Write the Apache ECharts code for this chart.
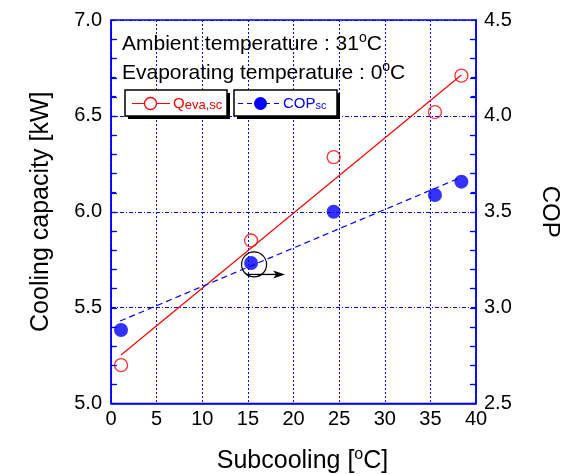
<!DOCTYPE html>
<html><head><meta charset="utf-8">
<script src="https://cdn.jsdelivr.net/npm/echarts@6/dist/echarts.min.js"></script>
<style>html,body{margin:0;padding:0;background:#fff}#c{width:569px;height:474px}</style>
</head><body><div id="c"></div>
<script>
// Data
var subcooling = [1.1, 15.35, 24.4, 35.5, 38.4];
var qeva = [5.20, 5.85, 6.285, 6.52, 6.71];
var cop = [2.883, 3.233, 3.50, 3.587, 3.657];
var qevaFitX = [1.1, 38.4];
var qevaFitY = [5.253, 6.713];
var copFitX = [1.0, 38.4];
var copFitY = [2.930, 3.680];
var xTicks = [0, 5, 10, 15, 20, 25, 30, 35, 40];
var leftTicks = [5.0, 5.5, 6.0, 6.5, 7.0];
var rightTicks = [2.5, 3.0, 3.5, 4.0, 4.5];
var minorPerMajor = 5;
var highlightIndex = 1;

var FONT = 'Liberation Sans, Arial, sans-serif';
var BLUE = '#0000ff';
var RED = '#ff0000';

function pairs(xs, ys){ return xs.map(function(x,i){return [x, ys[i]];}); }

var chart = echarts.init(document.getElementById('c'));
var axisCommon = {
  axisLine: {show: true, lineStyle: {color: BLUE, width: 1.5}},
  axisLabel: {color: '#000', fontFamily: FONT, fontSize: 20},
  nameTextStyle: {color: '#000', fontFamily: FONT, fontSize: 25}
};
var supRich = {
  n: {fontSize: 25, fontFamily: FONT, color: '#000', verticalAlign: 'bottom', lineHeight: 28},
  sup: {fontSize: 16, fontFamily: FONT, color: '#000', verticalAlign: 'bottom', lineHeight: 16, padding: [0,0,11,0]}
};
var tickStyle = {color: BLUE, width: 1.2};
chart.setOption({
  animation: false,
  backgroundColor: '#fff',
  grid: {left: 111, right: 93, top: 20, bottom: 70.5, show: true, borderColor: BLUE, borderWidth: 1.5,
         containLabel: false, outerBoundsMode: 'none'},
  xAxis: Object.assign({}, axisCommon, {
    type: 'value', min: xTicks[0], max: xTicks[xTicks.length-1], interval: 5,
    axisTick: {show: false},
    axisLabel: Object.assign({}, axisCommon.axisLabel, {margin: 6}),
    splitLine: {show: true, lineStyle: {color: BLUE, type: [2,2], width: 1}},
    name: '{n|Subcooling [}{sup|o}{n|C]}', nameLocation: 'middle', nameGap: 42,
    nameTextStyle: {rich: supRich, padding: [0, 0, 0, 18]}
  }),
  yAxis: [
    Object.assign({}, axisCommon, {
      type: 'value', min: leftTicks[0], max: leftTicks[leftTicks.length-1], interval: 0.5,
      axisTick: {show: true, inside: true, length: 5, lineStyle: tickStyle},
      minorTick: {show: true, splitNumber: minorPerMajor, length: 5, lineStyle: tickStyle},
      axisLabel: Object.assign({}, axisCommon.axisLabel, {margin: 9, formatter: function(v){return v.toFixed(1);}}),
      splitLine: {show: true, lineStyle: {color: BLUE, type: [4,2,1,2], width: 1}},
      name: 'Cooling capacity [kW]', nameLocation: 'middle', nameGap: 57
    }),
    Object.assign({}, axisCommon, {
      type: 'value', position: 'right', min: rightTicks[0], max: rightTicks[rightTicks.length-1], interval: 0.5,
      axisTick: {show: true, inside: true, length: 5, lineStyle: tickStyle},
      minorTick: {show: true, splitNumber: minorPerMajor, length: 5, lineStyle: tickStyle},
      axisLabel: Object.assign({}, axisCommon.axisLabel, {margin: 8, formatter: function(v){return v.toFixed(1);}}),
      splitLine: {show: false},
      name: 'COP', nameLocation: 'middle', nameGap: 62, nameRotate: -90,
      nameTextStyle: {color: '#000', fontFamily: FONT, fontSize: 24}
    })
  ],
  series: [
    {type: 'line', data: pairs(qevaFitX, qevaFitY), showSymbol: false, symbol: 'none',
     lineStyle: {color: RED, width: 1.2}, z: 2},
    {type: 'line', yAxisIndex: 1, data: pairs(copFitX, copFitY), showSymbol: false, symbol: 'none',
     lineStyle: {color: BLUE, width: 1.2, type: [6,4]}, z: 2},
    {type: 'scatter', data: pairs(subcooling, qeva), symbol: 'circle', symbolSize: 13,
     itemStyle: {color: 'rgba(255,255,255,0)', borderColor: RED, borderWidth: 1.3}, z: 3},
    {type: 'scatter', yAxisIndex: 1, data: pairs(subcooling, cop), symbol: 'circle', symbolSize: 14,
     itemStyle: {color: BLUE}, z: 3}
  ]
});

var g = [];
// inner ticks on both y axes, positioned through the library's scales
var xL = chart.convertToPixel({xAxisIndex: 0}, xTicks[0]);
var xR = chart.convertToPixel({xAxisIndex: 0}, xTicks[xTicks.length-1]);
function addTicks(axisIdx, ticks, x0, dir){
  var lo = ticks[0], hi = ticks[ticks.length-1], step = (ticks[1]-ticks[0]) / minorPerMajor;
  var n = Math.round((hi - lo) / step);
  for (var i = 1; i < n; i++) {
    var y = chart.convertToPixel({yAxisIndex: axisIdx}, lo + i*step);
    y = Math.round(y) + 0.5;
    g.push({type: 'line', shape: {x1: x0, y1: y, x2: x0 + dir*6, y2: y}, style: {stroke: BLUE, lineWidth: 1.2}, z: 5});
  }
}
addTicks(0, leftTicks, xL, 1);
addTicks(1, rightTicks, xR, -1);

// Annotation around highlighted COP point
var p = chart.convertToPixel({xAxisIndex: 0, yAxisIndex: 1}, [subcooling[highlightIndex], cop[highlightIndex]]);
var cx = p[0] + 3, cy = p[1] + 1.5;
var noteRich = {
  a: {fontSize: 21, fontFamily: FONT, fill: '#000', verticalAlign: 'bottom', lineHeight: 24},
  s: {fontSize: 14, fontFamily: FONT, fill: '#000', verticalAlign: 'bottom', lineHeight: 14, padding: [0,0,10,0]}
};
g.push({type: 'text', left: 122, top: 31, style: {rich: noteRich, text: '{a|Ambient temperature : 31}{s|o}{a|C}'}});
g.push({type: 'text', left: 122, top: 60, style: {rich: noteRich, text: '{a|Evaporating temperature : 0}{s|o}{a|C}'}});
// legend boxes
function box(x, y, w, h){
  g.push({type: 'rect', shape: {x: x+3, y: y+3, width: w, height: h}, style: {fill: '#000'}, z: 10});
  g.push({type: 'rect', shape: {x: x, y: y, width: w, height: h}, style: {fill: '#fff', stroke: '#000', lineWidth: 1.5}, z: 11});
}
box(125, 90, 102, 26);
box(234, 90, 103, 26);
g.push({type: 'line', shape: {x1: 132, y1: 103.5, x2: 170, y2: 103.5}, style: {stroke: RED, lineWidth: 1.2}, z: 12});
g.push({type: 'circle', shape: {cx: 150.5, cy: 103.5, r: 6}, style: {fill: '#fff', stroke: RED, lineWidth: 1.3}, z: 13});
g.push({type: 'text', x: 173, y: 104, style: {rich: {
  a: {fontSize: 15, fontFamily: FONT, fill: RED, verticalAlign: 'bottom'},
  b: {fontSize: 13, fontFamily: FONT, fill: RED, verticalAlign: 'bottom'}
}, text: '{a|Q}{b|eva,sc}', verticalAlign: 'middle'}, z: 13});
g.push({type: 'line', shape: {x1: 238, y1: 103.5, x2: 279, y2: 103.5}, style: {stroke: BLUE, lineWidth: 1.2, lineDash: [5,4]}, z: 12});
g.push({type: 'circle', shape: {cx: 260.5, cy: 103.5, r: 6.5}, style: {fill: BLUE}, z: 13});
g.push({type: 'text', x: 283, y: 104, style: {rich: {
  a: {fontSize: 15, fontFamily: FONT, fill: BLUE, verticalAlign: 'bottom'},
  b: {fontSize: 11, fontFamily: FONT, fill: BLUE, verticalAlign: 'bottom'}
}, text: '{a|COP}{b|sc}', verticalAlign: 'middle'}, z: 13});
// annotation circle and arrow
g.push({type: 'circle', shape: {cx: cx, cy: cy, r: 12.5}, style: {fill: 'none', stroke: '#000', lineWidth: 1.2}, z: 9});
g.push({type: 'line', shape: {x1: cx - 8, y1: cy + 10, x2: cx + 22, y2: cy + 10}, style: {stroke: '#000', lineWidth: 1.3}, z: 9});
g.push({type: 'polygon', shape: {points: [[cx + 19, cy + 6], [cx + 31, cy + 10], [cx + 19, cy + 14], [cx + 22, cy + 10]]}, style: {fill: '#000'}, z: 9});
chart.setOption({graphic: g});
</script>
</body></html>
